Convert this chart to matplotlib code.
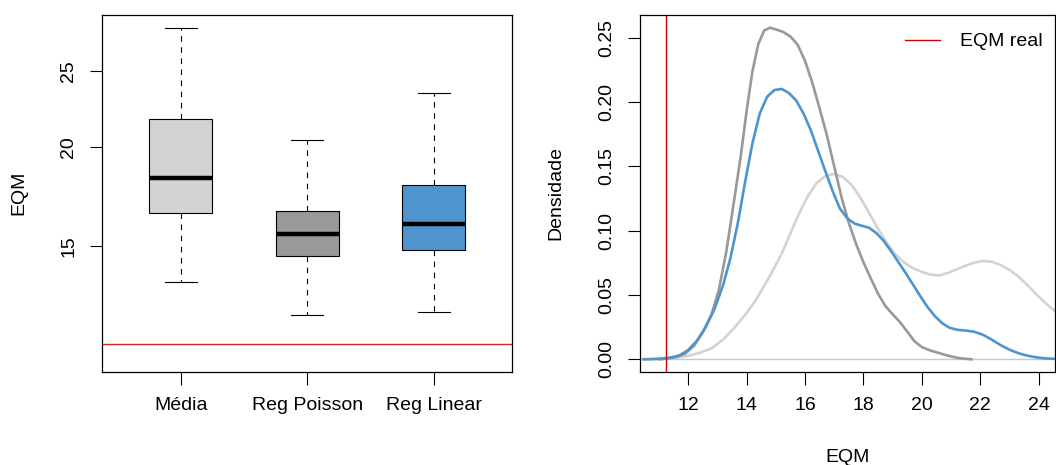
import matplotlib
matplotlib.use("Agg")
import matplotlib.pyplot as plt
from matplotlib.ticker import NullLocator

plt.rcParams['font.family'] = ['Liberation Sans', 'DejaVu Sans']
plt.rcParams['font.size'] = 14

# boxplot summary (EQM per method)
categories = ['Média', 'Reg Poisson', 'Reg Linear']
whislo = [13.49, 12.25, 12.38]
q1 = [16.50, 14.57, 14.84]
med = [18.31, 15.53, 16.00]
q3 = [21.73, 16.61, 17.94]
whishi = [28.32, 20.42, 23.43]
box_colors = ['#D3D3D3', '#999999', '#4F94CD']
eqm_real = 11.25

# density curves
media_x = [10.3, 10.8, 11.2, 11.6, 12.0, 12.4, 12.8, 13.2, 13.6, 14.0, 14.3,
           14.6, 14.9, 15.2, 15.5, 15.8, 16.1, 16.4, 16.7, 17.0, 17.3, 17.6,
           17.9, 18.2, 18.5, 18.8, 19.1, 19.4, 19.7, 20.0, 20.3, 20.6, 20.9,
           21.2, 21.5, 21.8, 22.1, 22.4, 22.7, 23.0, 23.3, 23.6, 23.9, 24.2,
           24.5, 24.8]
media_y = [0.0, 0.0002, 0.0005, 0.0012, 0.0028, 0.005, 0.0085, 0.0155, 0.025,
           0.036, 0.0455, 0.057, 0.069, 0.082, 0.098, 0.1135, 0.127, 0.1372,
           0.1425, 0.1441, 0.1418, 0.1355, 0.1255, 0.1135, 0.1015, 0.0905,
           0.0815, 0.0752, 0.0708, 0.0679, 0.0658, 0.0652, 0.0672, 0.070,
           0.0728, 0.0752, 0.0765, 0.0758, 0.0733, 0.0695, 0.0645, 0.058,
           0.051, 0.0445, 0.0385, 0.033]

poisson_x = [11.0, 11.3, 11.6, 11.9, 12.2, 12.5, 12.8, 13.05, 13.3, 13.55,
             13.8, 14.0, 14.2, 14.4, 14.6, 14.8, 15.0, 15.25, 15.5, 15.75,
             16.0, 16.25, 16.5, 16.75, 17.0, 17.25, 17.5, 17.75, 18.0, 18.25,
             18.5, 18.75, 19.0, 19.25, 19.5, 19.75, 20.0, 20.3, 20.6, 20.9,
             21.2, 21.5, 21.7]
poisson_y = [0.0, 0.0005, 0.0018, 0.0045, 0.0105, 0.021, 0.035, 0.054, 0.083,
             0.12, 0.158, 0.193, 0.224, 0.245, 0.2555, 0.2578, 0.2565, 0.2545,
             0.251, 0.2445, 0.232, 0.215, 0.195, 0.174, 0.150, 0.126, 0.106,
             0.0895, 0.0755, 0.063, 0.051, 0.0415, 0.035, 0.029, 0.0215, 0.014,
             0.0095, 0.0068, 0.0048, 0.0028, 0.0012, 0.0004, 0.0]

linear_x = [10.48, 10.8, 11.1, 11.4, 11.7, 12.0, 12.3, 12.6, 12.9, 13.2, 13.45,
            13.7, 13.95, 14.2, 14.45, 14.7, 14.95, 15.2, 15.45, 15.7, 15.95,
            16.2, 16.45, 16.7, 16.95, 17.2, 17.45, 17.7, 17.95, 18.2, 18.45,
            18.7, 18.95, 19.2, 19.45, 19.7, 19.95, 20.2, 20.45, 20.7, 20.95,
            21.2, 21.5, 21.8, 22.1, 22.4, 22.7, 23.0, 23.3, 23.6, 23.9, 24.2,
            24.6, 25.0]
linear_y = [0.0, 0.0002, 0.0006, 0.0014, 0.003, 0.0072, 0.0145, 0.025, 0.039,
            0.058, 0.079, 0.106, 0.138, 0.168, 0.191, 0.204, 0.2093, 0.2102,
            0.207, 0.2012, 0.191, 0.178, 0.162, 0.146, 0.1305, 0.117, 0.1095,
            0.1055, 0.1038, 0.1022, 0.098, 0.092, 0.084, 0.0755, 0.067, 0.058,
            0.049, 0.0405, 0.0335, 0.028, 0.0245, 0.023, 0.0224, 0.0214, 0.019,
            0.0152, 0.011, 0.0075, 0.0048, 0.0029, 0.0016, 0.0008, 0.0003,
            0.0001]

W, H = 1056, 465
fig = plt.figure(figsize=(W / 100, H / 100), dpi=100)


def px_axes(x0, x1, y0, y1):
    return fig.add_axes([x0 / W, 1 - y1 / H, (x1 - x0) / W, (y1 - y0) / H])


def style_axes(ax):
    for s in ax.spines.values():
        s.set_linewidth(0.9)
    ax.tick_params(direction='out', length=9, width=0.8, labelsize=14)
    ax.tick_params(axis='x', pad=9)
    ax.tick_params(axis='y', pad=9)
    for lab in ax.get_yticklabels():
        lab.set_rotation(90)
        lab.set_va('center')


# ---- left: boxplot
ax1 = px_axes(102.3, 512.3, 14.7, 372.3)
stats = []
for i, name in enumerate(categories):
    stats.append(dict(label=name, whislo=whislo[i], q1=q1[i], med=med[i],
                      q3=q3[i], whishi=whishi[i], fliers=[]))
bp = ax1.bxp(stats, positions=[1, 2, 3], widths=0.5, capwidths=0.25,
             patch_artist=True, showfliers=False,
             boxprops=dict(edgecolor='black', linewidth=0.8),
             whiskerprops=dict(color='black', linewidth=0.8, linestyle=(0, (5, 5))),
             capprops=dict(color='black', linewidth=0.8),
             medianprops=dict(color='black', linewidth=3.2, solid_capstyle='butt'))
for patch, c in zip(bp['boxes'], box_colors):
    patch.set_facecolor(c)
ax1.axhline(eqm_real, color='#E02020', lw=1.0)
ax1.set_yscale('log')
ax1.set_ylim(10.37, 29.47)
ax1.set_xlim(0.38, 3.62)
ax1.set_yticks([15, 20, 25])
ax1.set_yticklabels(['15', '20', '25'])
ax1.yaxis.set_minor_locator(NullLocator())
ax1.set_xticks([1, 2, 3])
ax1.set_xticklabels(categories)
style_axes(ax1)
fig.text(18.8 / W, 1 - 193 / H, 'EQM', rotation=90, ha='center', va='center',
         fontsize=14)

# ---- right: densities
ax2 = px_axes(640, 1055, 14.7, 372.3)
ax2.axhline(0, color='#C8C8C8', lw=1.0)
ax2.plot(media_x, media_y, color='#D3D3D3', lw=1.9)
ax2.plot(poisson_x, poisson_y, color='#999999', lw=1.9)
ax2.plot(linear_x, linear_y, color='#4F94CD', lw=1.9)
ax2.axvline(eqm_real, color='#CC0000', lw=1.0, label='EQM real')
ax2.set_xlim(10.35, 24.56)
ax2.set_ylim(-0.0101, 0.2679)
ax2.set_xticks([12, 14, 16, 18, 20, 22, 24])
ax2.set_yticks([0, 0.05, 0.10, 0.15, 0.20, 0.25])
ax2.set_yticklabels(['0.00', '0.05', '0.10', '0.15', '0.20', '0.25'])
style_axes(ax2)
ax2.legend(loc='upper right', bbox_to_anchor=(1.0, 0.985), frameon=False,
           fontsize=14, handlelength=1.8, handletextpad=1.0,
           borderaxespad=0.2, borderpad=0.45)
fig.text(555.5 / W, 1 - 193 / H, 'Densidade', rotation=90, ha='center',
         va='center', fontsize=14)
fig.text(847.5 / W, 1 - 457 / H, 'EQM', ha='center', va='center', fontsize=14)

fig.savefig('out.png', dpi=100)
